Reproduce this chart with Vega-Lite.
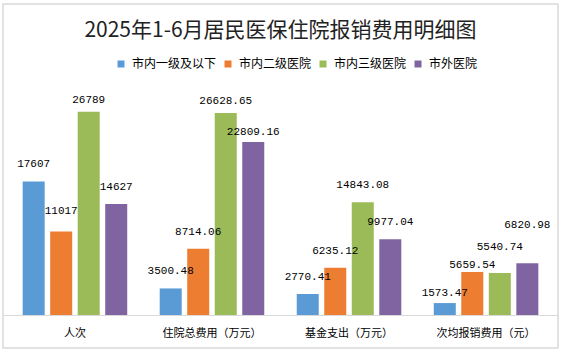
{
  "$schema": "https://vega.github.io/schema/vega-lite/v6.json",
  "width": 555,
  "height": 344,
  "autosize": {"type": "none"},
  "padding": {"left": 3, "top": 4, "right": 8, "bottom": 6},
  "background": "white",
  "config": {
    "view": {"stroke": "#d9d9d9", "strokeWidth": 1.5},
    "font": "Noto Sans CJK SC"
  },
  "title": {
    "text": "2025年1-6月居民医保住院报销费用明细图",
    "font": "Noto Sans CJK SC",
    "fontSize": 21,
    "fontWeight": "normal",
    "color": "#222222",
    "anchor": "middle",
    "baseline": "middle",
    "offset": -48
  },
  "data": {
    "values": [
      {"cat": "人次", "type": "市内一级及以下", "v": 17607, "label": "17607"},
      {"cat": "人次", "type": "市内二级医院", "v": 11017, "label": "11017"},
      {"cat": "人次", "type": "市内三级医院", "v": 26789, "label": "26789"},
      {"cat": "人次", "type": "市外医院", "v": 14627, "label": "14627"},
      {"cat": "住院总费用（万元）", "type": "市内一级及以下", "v": 3500.48, "label": "3500.48"},
      {"cat": "住院总费用（万元）", "type": "市内二级医院", "v": 8714.06, "label": "8714.06"},
      {"cat": "住院总费用（万元）", "type": "市内三级医院", "v": 26628.65, "label": "26628.65"},
      {"cat": "住院总费用（万元）", "type": "市外医院", "v": 22809.16, "label": "22809.16"},
      {"cat": "基金支出（万元）", "type": "市内一级及以下", "v": 2770.41, "label": "2770.41"},
      {"cat": "基金支出（万元）", "type": "市内二级医院", "v": 6235.12, "label": "6235.12"},
      {"cat": "基金支出（万元）", "type": "市内三级医院", "v": 14843.08, "label": "14843.08"},
      {"cat": "基金支出（万元）", "type": "市外医院", "v": 9977.04, "label": "9977.04"},
      {"cat": "次均报销费用（元）", "type": "市内一级及以下", "v": 1573.47, "label": "1573.47"},
      {"cat": "次均报销费用（元）", "type": "市内二级医院", "v": 5659.54, "label": "5659.54"},
      {"cat": "次均报销费用（元）", "type": "市内三级医院", "v": 5540.74, "label": "5540.74"},
      {"cat": "次均报销费用（元）", "type": "市外医院", "v": 6820.98, "label": "6820.98"}
    ]
  },
  "encoding": {
    "x": {
      "field": "cat",
      "type": "nominal",
      "sort": null,
      "scale": {"paddingInner": 0, "paddingOuter": 0.025},
      "axis": {
        "title": null,
        "orient": "bottom",
        "offset": -33,
        "labelAngle": 0,
        "ticks": false,
        "domainColor": "#d9d9d9",
        "domainWidth": 1,
        "labelPadding": 12,
        "labelFont": "Noto Sans CJK SC",
        "labelFontSize": 11,
        "labelColor": "#000000"
      }
    },
    "xOffset": {
      "field": "type",
      "type": "nominal",
      "sort": ["市内一级及以下", "市内二级医院", "市内三级医院", "市外医院"],
      "scale": {"paddingInner": 0.2, "paddingOuter": 0.59}
    },
    "y": {
      "field": "v",
      "type": "quantitative",
      "scale": {"domain": [-4348, 40981], "nice": false, "zero": false},
      "axis": null
    },
    "text": {"field": "label", "type": "nominal"}
  },
  "layer": [
    {
      "mark": {"type": "bar"},
      "encoding": {
        "text": null,
        "color": {
          "field": "type",
          "type": "nominal",
          "sort": ["市内一级及以下", "市内二级医院", "市内三级医院", "市外医院"],
          "scale": {
            "domain": ["市内一级及以下", "市内二级医院", "市内三级医院", "市外医院"],
            "range": ["#5B9BD5", "#ED7D31", "#9BBB59", "#8064A2"]
          },
          "legend": {
            "title": null,
            "orient": "none",
            "direction": "horizontal",
            "legendX": 112,
            "legendY": 54,
            "symbolType": "square",
            "symbolSize": 49,
            "symbolStrokeWidth": 0,
            "labelFont": "Noto Sans CJK SC",
            "labelFontSize": 12,
            "labelColor": "#000000",
            "labelOffset": 5,
            "columnPadding": 5
          }
        }
      }
    },
    {
      "transform": [{"filter": {"not": {"field": "label", "oneOf": ["26789", "26628.65", "22809.16", "1573.47", "5659.54", "11017", "5540.74", "6820.98"]}}}],
      "mark": {"type": "text", "baseline": "middle", "align": "center", "dy": -17, "font": "Liberation Mono", "fontSize": 11, "color": "#000000"}
    },
    {
      "transform": [{"filter": {"field": "label", "oneOf": ["26789", "26628.65"]}}],
      "mark": {"type": "text", "baseline": "middle", "align": "center", "dy": -12, "font": "Liberation Mono", "fontSize": 11, "color": "#000000"}
    },
    {
      "transform": [{"filter": {"field": "label", "oneOf": ["22809.16", "1573.47"]}}],
      "mark": {"type": "text", "baseline": "middle", "align": "center", "dy": -10, "font": "Liberation Mono", "fontSize": 11, "color": "#000000"}
    },
    {
      "transform": [{"filter": {"field": "label", "oneOf": ["5659.54"]}}],
      "mark": {"type": "text", "baseline": "middle", "align": "center", "dy": -7, "font": "Liberation Mono", "fontSize": 11, "color": "#000000"}
    },
    {
      "transform": [{"filter": {"field": "label", "oneOf": ["11017"]}}],
      "mark": {"type": "text", "baseline": "middle", "align": "center", "dy": -20, "font": "Liberation Mono", "fontSize": 11, "color": "#000000"}
    },
    {
      "transform": [{"filter": {"field": "label", "oneOf": ["5540.74"]}}],
      "mark": {"type": "text", "baseline": "middle", "align": "center", "dy": -26, "font": "Liberation Mono", "fontSize": 11, "color": "#000000"}
    },
    {
      "transform": [{"filter": {"field": "label", "oneOf": ["6820.98"]}}],
      "mark": {"type": "text", "baseline": "middle", "align": "center", "dy": -38, "font": "Liberation Mono", "fontSize": 11, "color": "#000000"}
    }
  ]
}
